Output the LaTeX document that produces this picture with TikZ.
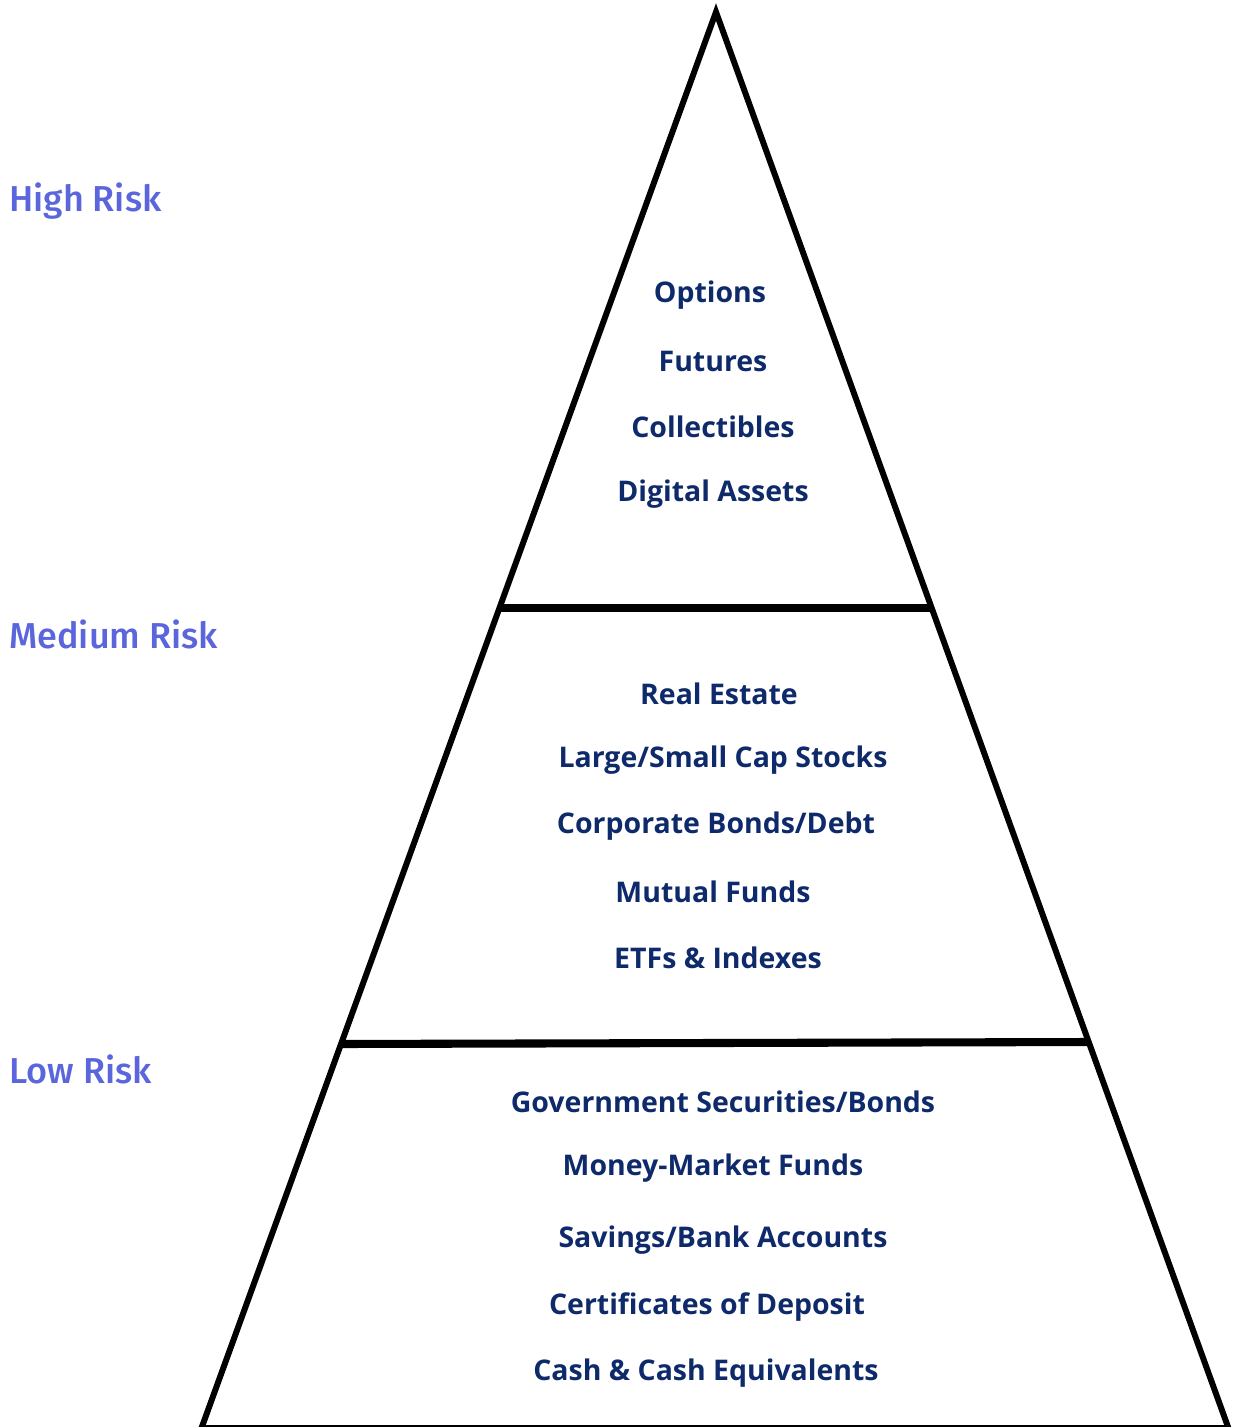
\documentclass[tikz,border=0pt]{standalone}
\usepackage{fontspec}
\usetikzlibrary{calc}
\setmainfont{Open Sans}
\newfontfamily\riskfont{Fira Sans}[BoldFont={* Medium}]
\definecolor{risk}{HTML}{5B66DC}
\definecolor{asset}{HTML}{0E2A6A}
\tikzset{
  item/.style={text=asset, font=\fontsize{16.2}{19}\selectfont\bfseries, inner sep=0pt, yshift=-1.3pt},
  level/.style={text=risk, font=\riskfont\fontsize{20.5}{24}\selectfont\bfseries, anchor=west, inner sep=0pt, yshift=-1.6pt}
}
\begin{document}
\begin{tikzpicture}[x=0.02cm, y=-0.02cm]
\useasboundingbox (0,0) rectangle (1232,1427);
% pyramid
\coordinate (top) at (716,12);
\coordinate (bl) at (201.5,1428);
\coordinate (br) at (1228.4,1428);
\draw[line width=3.4pt, line join=miter] (top) -- (br) -- (bl) -- cycle;
\draw[line width=4.6pt] ($(top)!0.4209!(bl)$) -- ($(top)!0.4209!(br)$);
\draw[line width=4.6pt] ($(top)!0.7288!(bl)$) -- ($(top)!0.7274!(br)$);
% risk levels
\node[level] (high) at (9,198) {High Risk};
\node[level] (medium) at (9,632) {Medium Risk};
\node[level] (low) at (9,1067) {Low Risk};
% high risk assets
\node[item] (h1) at (710,293) {Options};
\node[item] (h2) at (713,359) {Futures};
\node[item] (h3) at (713,425) {Collectibles};
\node[item] (h4) at (713,492) {Digital Assets};
% medium risk assets
\node[item] (m1) at (719,692) {Real Estate};
\node[item] (m2) at (723,758) {Large/Small Cap Stocks};
\node[item] (m3) at (716,824) {Corporate Bonds/Debt};
\node[item] (m4) at (713,890) {Mutual Funds};
\node[item] (m5) at (718,956) {ETFs \& Indexes};
% low risk assets
\node[item] (l1) at (723,1100) {Government Securities/Bonds};
\node[item] (l2) at (713,1166) {Money-Market Funds};
\node[item] (l3) at (723,1238) {Savings/Bank Accounts};
\node[item] (l4) at (707,1305) {Certificates of Deposit};
\node[item] (l5) at (706,1371) {Cash \& Cash Equivalents};
\end{tikzpicture}
\end{document}
